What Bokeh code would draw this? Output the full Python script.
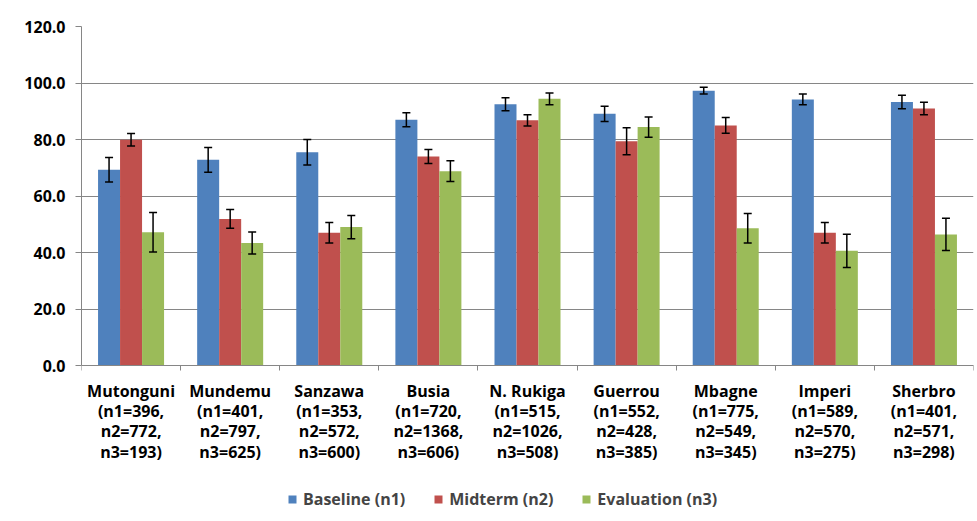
import numpy as np
from bokeh.plotting import figure
from bokeh.models import (ColumnDataSource, Whisker, FixedTicker, NumeralTickFormatter,
                          Legend, LegendItem, Range1d)
from bokeh.embed import file_html
from bokeh.resources import INLINE

sites = ["Mutonguni", "Mundemu", "Sanzawa", "Busia", "N. Rukiga", "Guerrou", "Mbagne", "Imperi", "Sherbro"]
n1 = [396, 401, 353, 720, 515, 552, 775, 589, 401]
n2 = [772, 797, 572, 1368, 1026, 428, 549, 570, 571]
n3 = [193, 625, 600, 606, 508, 385, 345, 275, 298]

baseline = [69.3, 72.8, 75.5, 87.0, 92.5, 89.1, 97.3, 94.2, 93.3]
midterm = [79.9, 51.9, 47.0, 74.0, 86.8, 79.4, 85.0, 47.0, 91.0]
evaluation = [47.2, 43.4, 49.0, 68.8, 94.4, 84.4, 48.6, 40.6, 46.4]

baseline_err = [4.3, 4.4, 4.5, 2.5, 2.3, 2.7, 1.2, 1.9, 2.4]
midterm_err = [2.2, 3.3, 3.6, 2.5, 2.0, 4.8, 2.8, 3.6, 2.2]
evaluation_err = [7.0, 3.9, 4.1, 3.7, 2.1, 3.6, 5.2, 5.9, 5.7]

y_ticks = [0, 20, 40, 60, 80, 100, 120]
series_names = ["Baseline (n1)", "Midterm (n2)", "Evaluation (n3)"]
colors = ["#4F81BD", "#C0504D", "#9BBB59"]

labels = [f"{s}\n(n1={a},\nn2={b},\nn3={c})" for s, a, b, c in zip(sites, n1, n2, n3)]

FONT = "Open Sans"
FS = "16px"
centers = np.arange(len(sites)) + 0.5
bw = 0.222
offsets = [-bw, 0.0, bw]

# frame extends below the value axis so that the category labels and legend
# (drawn beneath y=0) sit inside it
W, H = 977, 521
TOP, LEFT, RIGHT = 26, 81, 4
PLOT_H = 339  # pixel height of the 0..120 value span
frame_h = H - TOP
y_lo = 120 - frame_h * 120 / PLOT_H

p = figure(width=W, height=H, output_backend="svg", toolbar_location=None,
           x_range=Range1d(0, len(sites)), y_range=Range1d(y_lo, 120),
           min_border_left=LEFT, min_border_top=TOP, min_border_right=RIGHT, min_border_bottom=0)
p.outline_line_color = None
p.background_fill_color = "white"
p.border_fill_color = "white"

items = []
for vals, errs, off, col, name in zip([baseline, midterm, evaluation],
                                      [baseline_err, midterm_err, evaluation_err],
                                      offsets, colors, series_names):
    v = np.array(vals)
    e = np.array(errs)
    src = ColumnDataSource(dict(x=centers + off, top=v, upper=v + e, lower=v - e))
    r = p.vbar(x="x", top="top", width=bw, bottom=0, source=src, fill_color=col, line_color=None)
    w = Whisker(base="x", upper="upper", lower="lower", source=src, line_color="black",
                line_width=1.5, level="overlay")
    w.upper_head.size = 8
    w.lower_head.size = 8
    w.upper_head.line_width = 1.5
    w.lower_head.line_width = 1.5
    p.add_layout(w)
    items.append(LegendItem(label=name, renderers=[r]))

# y axis
p.yaxis.ticker = FixedTicker(ticks=y_ticks)
p.yaxis.bounds = (0, 120)
p.yaxis.formatter = NumeralTickFormatter(format="0.0")
p.yaxis.axis_line_color = "#868686"
p.yaxis.major_tick_line_color = "#868686"
p.yaxis.major_tick_out = 6
p.yaxis.major_tick_in = 0
p.yaxis.minor_tick_line_color = None
p.yaxis.major_label_text_font = FONT
p.yaxis.major_label_text_font_style = "bold"
p.yaxis.major_label_text_font_size = FS
p.yaxis.major_label_text_color = "black"
p.yaxis.major_label_standoff = 10

# x axis, pinned at y = 0
bounds = list(np.arange(len(sites) + 1).astype(float))
p.xaxis.fixed_location = 0
p.xaxis.ticker = FixedTicker(ticks=list(centers), minor_ticks=bounds)
p.xaxis.major_label_overrides = {float(c): l for c, l in zip(centers, labels)}
p.xaxis.axis_line_color = "#868686"
p.xaxis.major_tick_line_color = None
p.xaxis.minor_tick_line_color = "#868686"
p.xaxis.minor_tick_out = 5
p.xaxis.minor_tick_in = 0
p.xaxis.major_label_text_font = FONT
p.xaxis.major_label_text_font_style = "bold"
p.xaxis.major_label_text_font_size = FS
p.xaxis.major_label_text_color = "black"
p.xaxis.major_label_text_line_height = 0.93
p.xaxis.major_label_standoff = 8

p.xgrid.grid_line_color = None
p.ygrid.grid_line_color = "#868686"
p.ygrid.grid_line_width = 1

legend = Legend(items=items, orientation="horizontal", location=(206, 11),
                label_text_font=FONT, label_text_font_style="bold", label_text_font_size=FS,
                glyph_width=10, glyph_height=10, label_standoff=6, spacing=28,
                border_line_color=None, background_fill_alpha=0, margin=0, padding=2)
p.add_layout(legend, "center")

open("out.html", "w").write(file_html(p, INLINE))
